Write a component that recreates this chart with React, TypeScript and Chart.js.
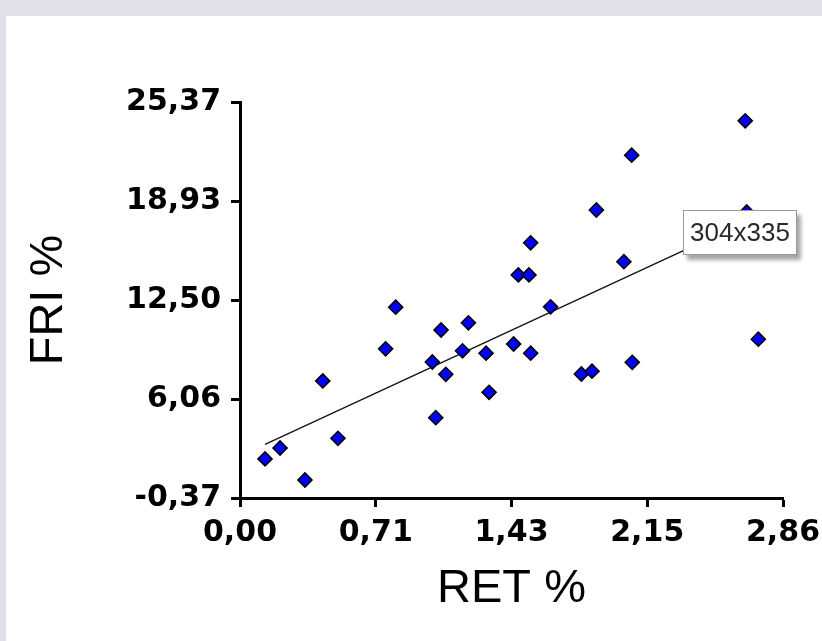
import React, { useEffect, useRef } from 'react';
import { Chart, registerables } from 'chart.js';

Chart.register(...registerables);

const retValues = [0.132, 0.211, 0.342, 0.436, 0.516, 0.767, 0.820, 1.013, 1.031, 1.059, 1.084, 1.172, 1.203, 1.296, 1.312, 1.441, 1.466, 1.522, 1.531, 1.531, 1.636, 1.798, 1.854, 1.877, 2.022, 2.063, 2.066, 2.661, 2.669, 2.730];
const friValues = [2.17, 2.88, 0.80, 7.24, 3.51, 9.33, 12.03, 8.47, 4.85, 10.55, 7.67, 9.20, 11.02, 9.04, 6.50, 9.64, 14.13, 14.13, 16.22, 9.04, 12.06, 7.69, 7.87, 18.35, 14.99, 21.91, 8.45, 24.15, 18.22, 9.95];

const fitRet = [0.132, 2.728];
const fitFri = [3.12, 17.95];

const xTickValues = [0, 0.715, 1.43, 2.145, 2.86];
const xTickLabels = ['0,00', '0,71', '1,43', '2,15', '2,86'];
const yTickValues = [-0.37, 6.065, 12.5, 18.935, 25.37];
const yTickLabels = ['-0,37', '6,06', '12,50', '18,93', '25,37'];

const xTitle = 'RET %';
const yTitle = 'FRI %';
const tooltipText = '304x335';

export default function App() {
  const canvasRef = useRef<HTMLCanvasElement | null>(null);

  useEffect(() => {
    const canvas = canvasRef.current;
    if (!canvas) return;
    const points = retValues.map((x, i) => ({ x, y: friValues[i] }));
    const fit = fitRet.map((x, i) => ({ x, y: fitFri[i] }));
    const tickFont = { family: "'DejaVu Sans', sans-serif", size: 30, weight: 'bold' as const };
    const titleFont = { family: "'Liberation Sans', Arial, sans-serif", size: 47, weight: 'normal' as const };

    const chart = new Chart(canvas, {
      type: 'scatter',
      data: {
        datasets: [
          {
            label: 'data',
            data: points,
            pointStyle: 'rectRot',
            pointRadius: 7,
            pointBackgroundColor: '#0000ff',
            pointBorderColor: '#000000',
            pointBorderWidth: 1.6,
            showLine: false,
            order: 0,
          },
          {
            label: 'fit',
            type: 'line',
            data: fit,
            borderColor: '#111111',
            borderWidth: 1.3,
            pointRadius: 0,
            showLine: true,
            fill: false,
            order: 1,
          } as any,
        ],
      },
      options: {
        responsive: false,
        animation: false,
        layout: { padding: { left: 0, top: 102, right: 39, bottom: 0 } },
        plugins: {
          legend: { display: false },
          tooltip: { enabled: false },
        },
        scales: {
          x: {
            type: 'linear',
            min: 0,
            max: 2.86,
            afterBuildTicks: (s: any) => {
              s.ticks = xTickValues.map((v) => ({ value: v }));
            },
            afterFit: (s: any) => {
              s.height = 143;
              s.paddingLeft = 0;
              s.paddingRight = 0;
            },
            ticks: {
              callback: (_v: any, i: number) => xTickLabels[i],
              color: '#000',
              font: tickFont,
              padding: 8,
              maxRotation: 0,
              autoSkip: false,
            },
            grid: {
              display: true,
              drawOnChartArea: false,
              drawTicks: true,
              tickLength: 9,
              tickWidth: 3,
              tickColor: '#000',
              color: '#000',
            },
            border: { display: true, width: 3, color: '#000' },
            title: {
              display: true,
              text: xTitle,
              color: '#000',
              font: titleFont,
              padding: { top: 0, bottom: 24 },
            },
          },
          y: {
            type: 'linear',
            min: -0.37,
            max: 25.37,
            afterBuildTicks: (s: any) => {
              s.ticks = yTickValues.map((v) => ({ value: v }));
            },
            afterFit: (s: any) => {
              s.width = 240;
              s.paddingTop = 0;
              s.paddingBottom = 0;
            },
            ticks: {
              callback: (_v: any, i: number) => yTickLabels[i],
              color: '#000',
              font: tickFont,
              padding: 10,
              autoSkip: false,
            },
            grid: {
              display: true,
              drawOnChartArea: false,
              drawTicks: true,
              tickLength: 9,
              tickWidth: 3,
              tickColor: '#000',
              color: '#000',
            },
            border: { display: true, width: 3, color: '#000' },
            title: {
              display: true,
              text: yTitle,
              color: '#000',
              font: titleFont,
              padding: { top: 21, bottom: 0 },
            },
          },
        },
      },
    });
    return () => chart.destroy();
  }, []);

  return (
    <div style={{ position: 'fixed', left: 0, top: 0, width: 822, height: 641, background: '#e3dfea', overflow: 'hidden' }}>
      <div style={{ position: 'absolute', left: 6, top: 16, right: 0, bottom: 0, background: '#ffffff' }} />
      <canvas ref={canvasRef} width={822} height={641} style={{ position: 'absolute', left: 0, top: 0, width: 822, height: 641 }} />
      <div
        style={{
          position: 'absolute',
          left: 683,
          top: 210,
          width: 114,
          height: 45,
          background: '#ffffff',
          border: '1px solid #9a9a9a',
          boxShadow: '4px 5px 4px rgba(0,0,0,0.35)',
          fontFamily: "'Liberation Sans', Arial, sans-serif",
          fontSize: 26,
          color: '#2a2a2a',
          lineHeight: '43px',
          textAlign: 'center',
          boxSizing: 'border-box',
        }}
      >
        {tooltipText}
      </div>
    </div>
  );
}
